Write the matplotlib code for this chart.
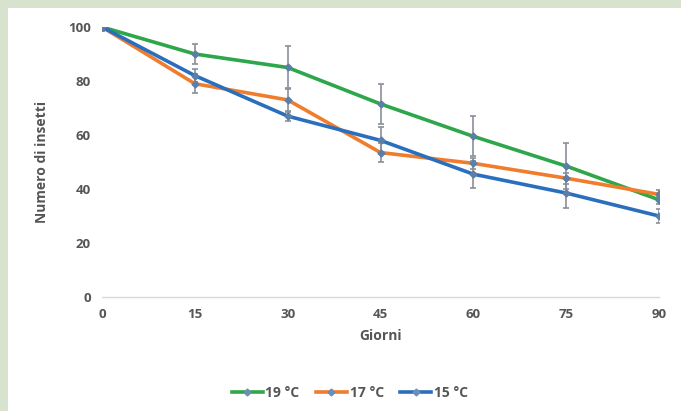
import matplotlib
matplotlib.use("Agg")
import matplotlib.pyplot as plt
from matplotlib.lines import Line2D

giorni = [0, 15, 30, 45, 60, 75, 90]
t19 = [100, 90, 85, 71.5, 59.5, 48.5, 36]
t17 = [100, 79, 73, 53.5, 49.5, 44, 38]
t15 = [100, 82, 67, 58, 45.5, 38.5, 30]
err19 = [1.5, 3.8, 8, 7.5, 7.4, 8.5, 1.5]
err17 = [1.5, 3.5, 4.5, 3.5, 2, 2, 1.5]
err15 = [1.5, 2.5, 2, 5, 5, 5.5, 2.5]

serie = [
    ("19 °C", t19, err19, "#2ea64a"),
    ("17 °C", t17, err17, "#ef7d2d"),
    ("15 °C", t15, err15, "#2a6fbd"),
]

plt.rcParams["font.family"] = ["Open Sans", "DejaVu Sans"]
testo = "#555555"

fig = plt.figure(figsize=(6.81, 4.11), dpi=100)
fig.patch.set_facecolor("#d8e3cf")
# pannello bianco
fig.add_artist(plt.Rectangle((8 / 681, 0), 1, 1 - 8 / 411, transform=fig.transFigure,
                             facecolor="white", edgecolor="none", zorder=0))

ax = fig.add_axes([102 / 681, (411 - 297) / 411, (659 - 102) / 681, 270 / 411])
ax.set_facecolor("none")

handles = []
for nome, vals, err, col in serie:
    ax.errorbar(giorni, vals, yerr=err, color=col, lw=2.6, ecolor="#8a8f99",
                elinewidth=1.2, capsize=2.5, capthick=1.2, marker="D",
                markersize=3.5, markerfacecolor="#5b7fa8", markeredgecolor="#5b7fa8",
                zorder=3)
    handles.append(Line2D([], [], color=col, lw=2.6, marker="D", markersize=3.5,
                          markerfacecolor="#6a8fb8", markeredgecolor="#6a8fb8", label=nome))

ax.set_xlim(0, 90)
ax.set_ylim(0, 100)
ax.set_xticks(giorni)
ax.set_yticks(range(0, 101, 20))
for s in ["top", "right", "left"]:
    ax.spines[s].set_visible(False)
ax.spines["bottom"].set_color("#d9d9d9")
ax.spines["bottom"].set_linewidth(1)
ax.tick_params(length=0, colors=testo, labelsize=9.5, pad=8)
for lab in ax.get_xticklabels() + ax.get_yticklabels():
    lab.set_fontweight("bold")
ax.set_xlabel("Giorni", color=testo, fontsize=10, fontweight="bold", labelpad=6)
ax.set_ylabel("Numero di insetti", color=testo, fontsize=10, fontweight="bold", labelpad=14)

leg = ax.legend(handles=handles, loc="center", bbox_to_anchor=(0.445, -0.355), ncol=3,
                frameon=False, handlelength=2.2, columnspacing=1.2, handletextpad=0.2,
                prop={"weight": "bold", "size": 10})
for t in leg.get_texts():
    t.set_color(testo)

fig.savefig("out.png", dpi=100, facecolor=fig.get_facecolor())
